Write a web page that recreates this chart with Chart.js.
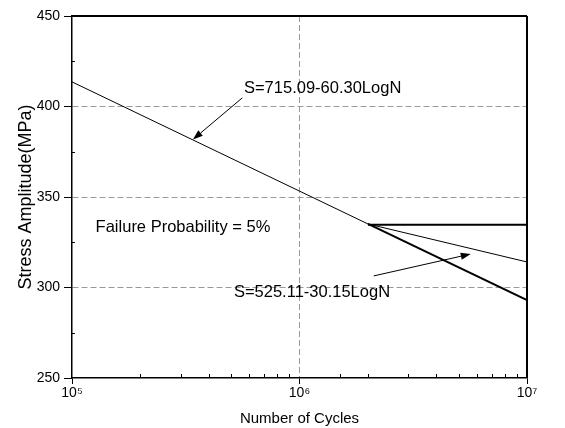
<!DOCTYPE html>
<html>
<head>
<meta charset="utf-8">
<script src="https://cdn.jsdelivr.net/npm/chart.js@4.4.0/dist/chart.umd.min.js"></script>
<style>
html, body { margin: 0; padding: 0; background: #fff; }
</style>
</head>
<body>
<canvas id="snChart" width="565" height="428"></canvas>
<script>
// S-N curves, N in cycles and S in MPa
const cyclesFit1 = [1e5, 2e6];
const stressFit1 = [413.6, 335.1];
const cyclesFit1Tail = [2e6, 1e7];
const stressFit1Tail = [335.1, 293.1];
const cyclesFit2 = [2e6, 1e7];
const stressFit2 = [335.1, 314.1];
const cyclesLimit = [2e6, 1e7];
const stressLimit = [334.6, 334.6];

const xTickLabels = { 100000: '10⁵', 1000000: '10⁶', 10000000: '10⁷' };
const yTickLabels = [250, 300, 350, 400, 450];
const xGridValues = [1e6];
const yGridValues = [300, 350, 400];

const FONT = "'Liberation Sans', Arial, Helvetica, sans-serif";

function pts(xs, ys) {
    return xs.map((x, i) => ({ x: x, y: ys[i] }));
}

function isDecade(v) {
    const l = Math.log10(v);
    return Math.abs(l - Math.round(l)) < 1e-9;
}

// notes drawn on top of the plot, placed in data units
const notes = [
    { text: 'S=715.09-60.30LogN', n: 5.7e5, s: 409.9 },
    { text: 'Failure Probability = 5%', n: 1.27e5, s: 333.4 },
    { text: 'S=525.11-30.15LogN', n: 5.15e5, s: 297.0 }
];
const arrows = [
    { n0: 5.61e5, s0: 404.8, n1: 3.40e5, s1: 381.8 },
    { n0: 2.12e6, s0: 306.4, n1: 5.66e6, s1: 318.5 }
];

const extras = {
    id: 'extras',
    afterDraw(chart) {
        const ctx = chart.ctx;
        const a = chart.chartArea;
        const x = chart.scales.x;
        const y = chart.scales.y;
        ctx.save();
        ctx.strokeStyle = '#000';

        // top and right edges of the frame
        ctx.lineWidth = 1.8;
        ctx.beginPath();
        ctx.moveTo(a.left, a.top);
        ctx.lineTo(a.right, a.top);
        ctx.stroke();
        ctx.lineWidth = 2;
        ctx.beginPath();
        ctx.moveTo(a.right, a.top);
        ctx.lineTo(a.right, a.bottom);
        ctx.stroke();

        // short inward minor ticks
        ctx.lineWidth = 1;
        x.ticks.forEach(t => {
            if (isDecade(t.value)) return;
            const px = Math.round(x.getPixelForValue(t.value)) + 0.5;
            ctx.beginPath();
            ctx.moveTo(px, a.bottom);
            ctx.lineTo(px, a.bottom - 4);
            ctx.stroke();
        });
        y.ticks.forEach(t => {
            if (t.value % 50 === 0) return;
            const py = Math.round(y.getPixelForValue(t.value)) + 0.5;
            ctx.beginPath();
            ctx.moveTo(a.left, py);
            ctx.lineTo(a.left + 3, py);
            ctx.stroke();
        });

        // arrows
        ctx.fillStyle = '#000';
        arrows.forEach(ar => {
            const x0 = x.getPixelForValue(ar.n0), y0 = y.getPixelForValue(ar.s0);
            const x1 = x.getPixelForValue(ar.n1), y1 = y.getPixelForValue(ar.s1);
            const ang = Math.atan2(y1 - y0, x1 - x0);
            const len = 10, half = 3.5;
            const bx = x1 - len * Math.cos(ang), by = y1 - len * Math.sin(ang);
            ctx.lineWidth = 1;
            ctx.beginPath();
            ctx.moveTo(x0, y0);
            ctx.lineTo(bx, by);
            ctx.stroke();
            ctx.beginPath();
            ctx.moveTo(x1, y1);
            ctx.lineTo(bx + half * Math.sin(ang), by - half * Math.cos(ang));
            ctx.lineTo(bx - half * Math.sin(ang), by + half * Math.cos(ang));
            ctx.closePath();
            ctx.fill();
        });

        // text notes
        ctx.font = '16.5px ' + FONT;
        ctx.textAlign = 'left';
        ctx.textBaseline = 'middle';
        notes.forEach(nt => {
            ctx.fillText(nt.text, x.getPixelForValue(nt.n), y.getPixelForValue(nt.s));
        });
        ctx.restore();
    }
};

const thin = { borderColor: '#000', borderWidth: 1, pointRadius: 0, fill: false, tension: 0 };
const thick = { borderColor: '#000', borderWidth: 2, pointRadius: 0, fill: false, tension: 0 };

new Chart(document.getElementById('snChart'), {
    type: 'line',
    data: {
        datasets: [
            Object.assign({ label: 'fit 1', data: pts(cyclesFit1, stressFit1) }, thin),
            Object.assign({ label: 'fit 1 tail', data: pts(cyclesFit1Tail, stressFit1Tail) }, thick),
            Object.assign({ label: 'fit 2', data: pts(cyclesFit2, stressFit2) }, thin),
            Object.assign({ label: 'limit', data: pts(cyclesLimit, stressLimit) }, thick)
        ]
    },
    options: {
        responsive: false,
        animation: false,
        devicePixelRatio: 1,
        layout: { padding: { top: 16, right: 38, left: 0, bottom: 0 } },
        plugins: {
            legend: { display: false },
            tooltip: { enabled: false }
        },
        scales: {
            x: {
                type: 'logarithmic',
                min: 1e5,
                max: 1e7,
                ticks: {
                    autoSkip: false,
                    maxRotation: 0,
                    padding: 1,
                    color: '#000',
                    font: { family: FONT, size: 14 },
                    callback: v => xTickLabels[Math.round(v)] || ''
                },
                grid: {
                    lineWidth: 1,
                    color: c => (c.tick && xGridValues.includes(Math.round(c.tick.value))) ? '#9a9a9a' : 'rgba(0,0,0,0)',
                    tickColor: c => (c.tick && isDecade(c.tick.value)) ? '#000' : 'rgba(0,0,0,0)',
                    tickLength: 6
                },
                border: { color: '#000', width: 1.5, dash: [6, 3] },
                title: {
                    display: true,
                    text: 'Number of Cycles',
                    color: '#000',
                    font: { family: FONT, size: 15 },
                    padding: { top: 0, bottom: 0 }
                },
                afterFit: s => { s.height = 50; }
            },
            y: {
                min: 250,
                max: 450,
                ticks: {
                    stepSize: 25,
                    autoSkip: false,
                    padding: 4,
                    color: '#000',
                    font: { family: FONT, size: 14 },
                    callback: v => yTickLabels.includes(v) ? String(v) : ''
                },
                grid: {
                    lineWidth: 1,
                    color: c => (c.tick && yGridValues.includes(c.tick.value)) ? '#9a9a9a' : 'rgba(0,0,0,0)',
                    tickColor: c => (c.tick && yTickLabels.includes(c.tick.value)) ? '#000' : 'rgba(0,0,0,0)',
                    tickLength: 8
                },
                border: { color: '#000', width: 1.5, dash: [6, 3] },
                title: {
                    display: true,
                    text: 'Stress Amplitude(MPa)',
                    color: '#000',
                    font: { family: FONT, size: 18 },
                    padding: { top: 15, bottom: 0 }
                },
                afterFit: s => { s.width = 72; }
            }
        }
    },
    plugins: [extras]
});
</script>
</body>
</html>
